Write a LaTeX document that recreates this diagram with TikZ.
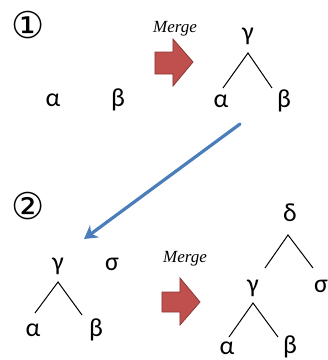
\documentclass[tikz,border=0pt]{standalone}
\usepackage{fontspec}
\setmainfont{Carlito}
\newfontfamily\symfont{DejaVu Sans}
\newfontfamily\merfont{Liberation Serif}
\usetikzlibrary{arrows.meta}
\definecolor{redfill}{RGB}{192,80,77}
\definecolor{redline}{RGB}{140,56,54}
\definecolor{bluearr}{RGB}{74,126,187}
\tikzset{
  lett/.style={inner sep=0pt, font=\fontsize{26}{26}\selectfont},
  num/.style={inner sep=0pt, font=\symfont\fontsize{37}{37}\selectfont},
  mergetxt/.style={inner sep=0pt, font=\merfont\itshape\fontsize{17}{17}\selectfont},
  branch/.style={line width=1pt, black},
  bigarrow/.style={fill=redfill, draw=redline, line width=0.8pt, line join=miter},
  movearrow/.style={bluearr, line width=3.2pt, line cap=round, -{Stealth[length=13pt,width=15pt,inset=4pt]}}
}
\begin{document}
\begin{tikzpicture}[x=1pt,y=-1pt]
\useasboundingbox (0,0) rectangle (328,360);
% step 1
\node[num] (n1) at (28,25) {①};
\node[lett] (a0) at (53,100) {α};
\node[lett] (b0) at (118,100) {β};
\node[mergetxt] (m1) at (175,29) {Merge};
\filldraw[bigarrow] (155,52) -- (173,52) -- (173,39) -- (193,62) -- (173,86) -- (173,74) -- (155,74) -- cycle;
\node[lett] (g1) at (248,36) {γ};
\node[lett] (a1) at (221,101) {α};
\node[lett] (b1) at (284,101) {β};
\coordinate (g1b) at (248,53);
\coordinate (a1t) at (223,88);
\coordinate (b1t) at (272,88);
\draw[branch] (a1t) -- (g1b) -- (b1t);
% move arrow
\coordinate (mvs) at (240,124);
\coordinate (mve) at (84,239);
\draw[movearrow] (mvs) -- (mve);
% step 2
\node[num] (n2) at (28,206) {②};
\node[lett] (g2) at (58,266) {γ};
\node[lett] (s2) at (112,264) {σ};
\coordinate (g2b) at (58,282);
\coordinate (a2t) at (35,313);
\coordinate (b2t) at (82,315);
\draw[branch] (a2t) -- (g2b) -- (b2t);
\node[lett] (a2) at (33,330) {α};
\node[lett] (b2) at (96,330) {β};
\node[mergetxt] (m2) at (185,259) {Merge};
\filldraw[bigarrow] (162,292) -- (180,292) -- (180,278) -- (200,302) -- (180,325) -- (180,312) -- (162,312) -- cycle;
\node[lett] (d3) at (290,213) {δ};
\coordinate (d3b) at (288,235);
\coordinate (g3t) at (265,268);
\coordinate (s3t) at (313,268);
\draw[branch] (g3t) -- (d3b) -- (s3t);
\node[lett] (g3) at (253,288) {γ};
\node[lett] (s3) at (321,286) {σ};
\coordinate (g3b) at (253,303);
\coordinate (a3t) at (229,337);
\coordinate (b3t) at (278,337);
\draw[branch] (a3t) -- (g3b) -- (b3t);
\node[lett] (a3) at (227,348) {α};
\node[lett] (b3) at (290,347) {β};
\end{tikzpicture}
\end{document}
